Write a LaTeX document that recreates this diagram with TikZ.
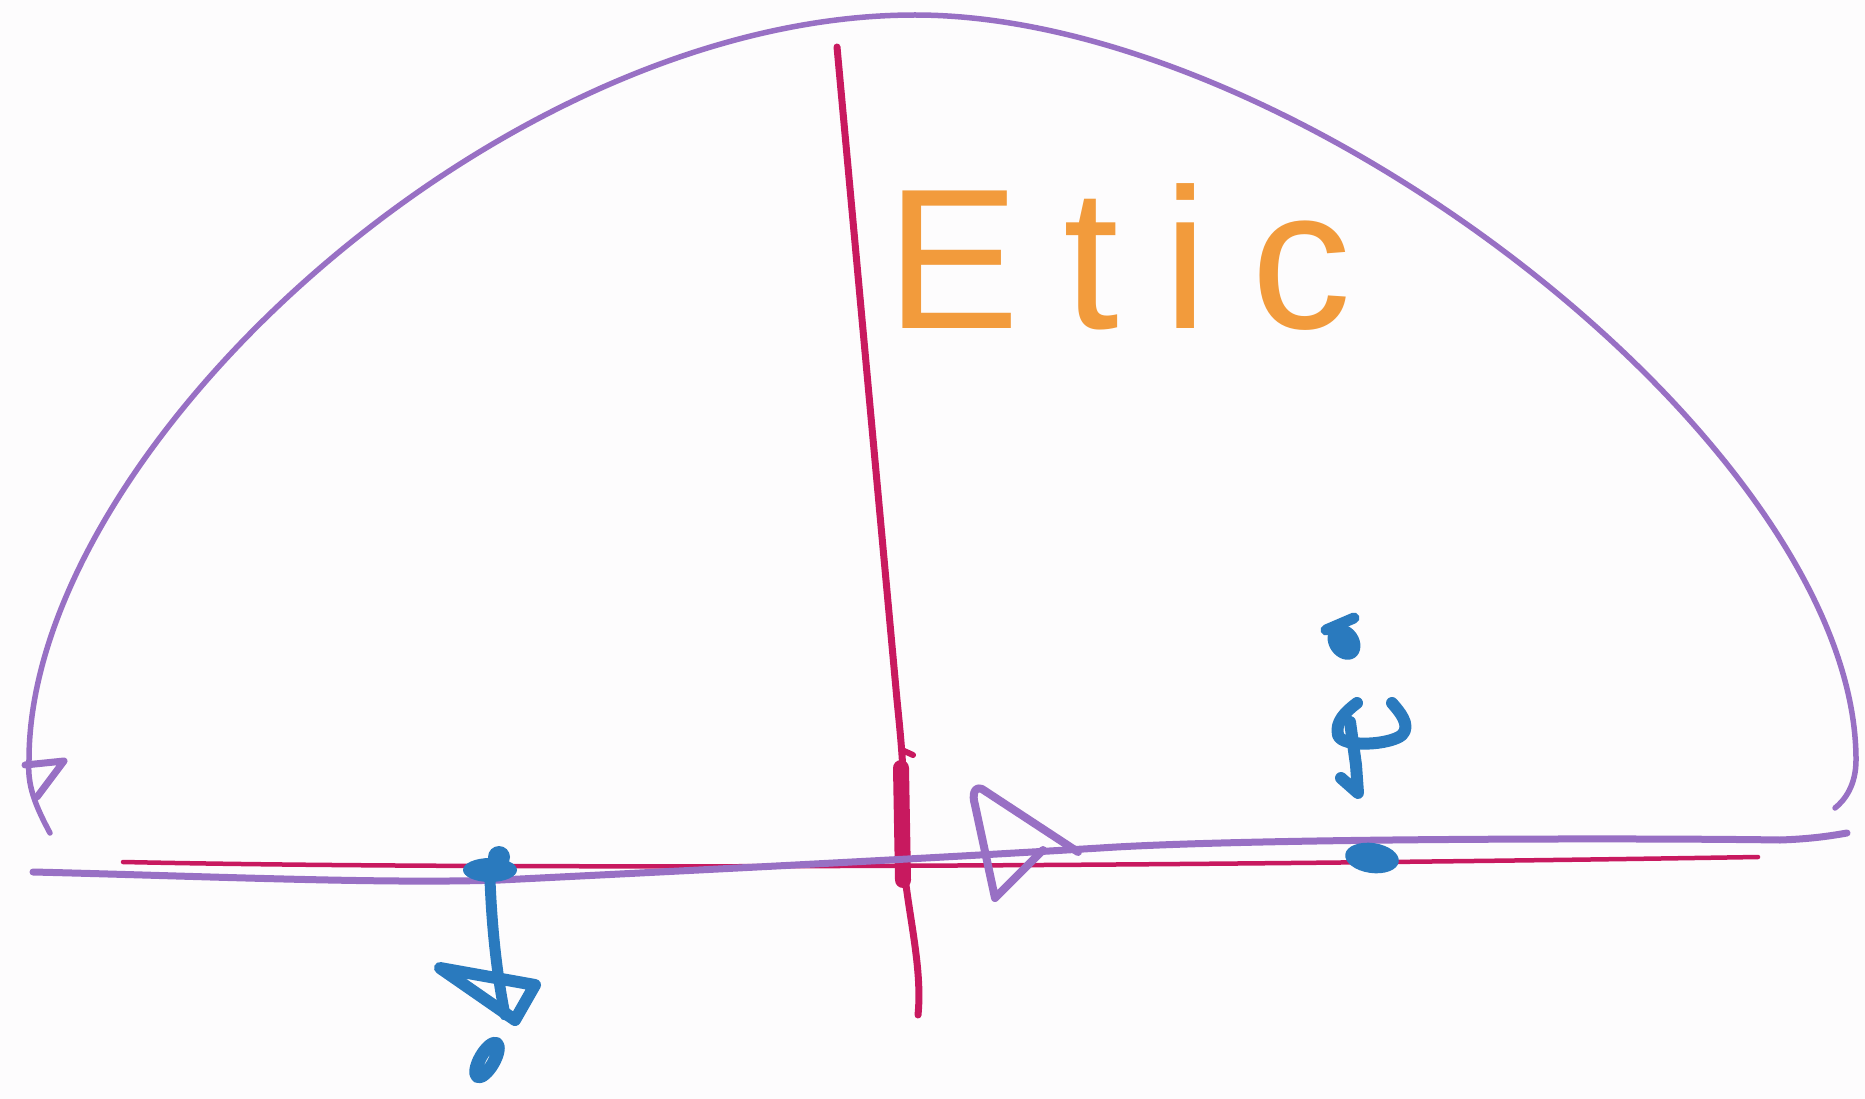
\documentclass[tikz,border=0pt]{standalone}
\usepackage{fontspec}
\setmainfont{Liberation Sans}
\newfontfamily\etfont[LetterSpace=22]{Liberation Sans}
\definecolor{purp}{RGB}{152,112,196}
\definecolor{crim}{RGB}{200,25,95}
\definecolor{blu}{RGB}{42,122,190}
\definecolor{orng}{RGB}{242,155,60}
\definecolor{bgc}{RGB}{253,252,253}
\tikzset{
  purpline/.style={draw=purp, line width=#1, line cap=round, line join=round},
  crimline/.style={draw=crim, line width=#1, line cap=round, line join=round},
  bluline/.style={draw=blu, line width=#1, line cap=round, line join=round},
}
\begin{document}
\begin{tikzpicture}[x=1pt,y=-1pt]
\useasboundingbox (0,0) rectangle (1865,1099);
\fill[bgc] (0,0) rectangle (1865,1099);

% red horizontal axis
\draw[crimline=4.5pt] (123,862) .. controls (500,870) and (1200,866) .. (1758,857);

% red vertical axis
\draw[crimline=7pt] (837,47) -- (897,700) .. controls (901,740) and (903,760) .. (904,800)
  -- (906,885) .. controls (912,930) and (922,975) .. (918,1015);
\draw[crimline=6pt] (902,750) -- (913,755);
\draw[crimline=16pt] (901,768) -- (903,880);

% purple horizontal line
\draw[purpline=7pt] (33,872) .. controls (200,876) and (380,884) .. (500,880)
  .. controls (700,870) and (900,860) .. (1100,848)
  .. controls (1250,838) and (1650,838) .. (1780,840)
  .. controls (1810,839) and (1830,836) .. (1847,833);

% purple arc
\draw[purpline=5.5pt] (50,833) .. controls (35,805) and (27,785) .. (29,760)
  .. controls (29,450) and (500,15) .. (915,15)
  .. controls (1300,15) and (1856,450) .. (1856,760)
  .. controls (1856,785) and (1845,800) .. (1835,808);
% left arrowhead of arc
\draw[purpline=7pt] (25,765) -- (64,761) -- (37,797);

% purple triangle arrowhead on axis
\draw[purpline=8pt] (1043,850) -- (995,898) -- (975,805) .. controls (972,795) and (974,786) .. (982,789) -- (1078,852);

% blue marks, left
\fill[blu] (490,870) ellipse (27 and 12);
\fill[blu] (499,857) circle (11);
\draw[bluline=11pt] (490,880) .. controls (492,930) and (497,975) .. (505,1015);
\draw[bluline=12pt] (440,968) -- (535,985) -- (515,1020) -- cycle;
\draw[bluline=13pt, rotate around={-30:(487,1060)}] (487,1060) ellipse (7 and 19);

% blue marks, right
\fill[blu, rotate around={35:(1344,642)}] (1344,642) ellipse (15 and 19);
\draw[bluline=11pt] (1326,630) -- (1354,618);
\draw[bluline=12pt] (1357,703) .. controls (1345,712) and (1335,722) .. (1338,735)
  .. controls (1342,748) and (1390,745) .. (1402,735)
  .. controls (1412,725) and (1398,710) .. (1392,703);
\draw[bluline=12pt] (1350,722) -- (1356,765) -- (1358,793) -- (1341,778);
\fill[blu, rotate around={-8:(1372,858)}] (1372,858) ellipse (27 and 15);

% label
\node[anchor=base west, inner sep=0, text=orng, font=\etfont\fontsize{200}{200}\selectfont] (etic) at (886,328) {Etic};
\end{tikzpicture}
\end{document}
